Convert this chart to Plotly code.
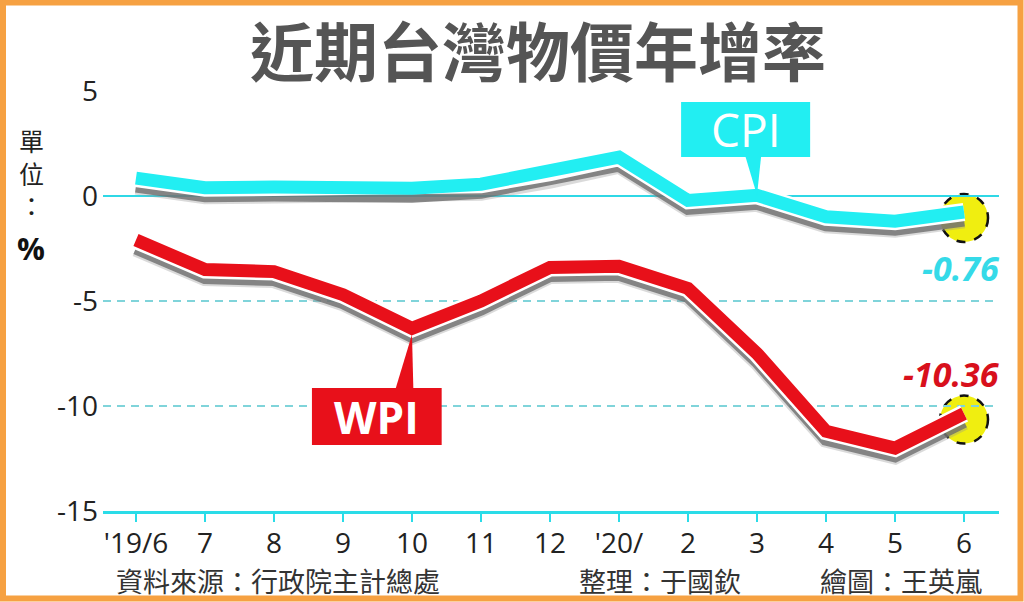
import plotly.graph_objects as go

# ---------------- data ----------------
months = ["'19/6", "7", "8", "9", "10", "11", "12", "'20/", "2", "3", "4", "5", "6"]
cpi = [0.85, 0.39, 0.43, 0.43, 0.37, 0.56, 1.14, 1.85, -0.21, 0.03, -0.99, -1.20, -0.76]
wpi = [-2.1, -3.5, -3.6, -4.7, -6.3, -5.0, -3.4, -3.35, -4.4, -7.5, -11.2, -12.0, -10.36]
y_ticks = [5, 0, -5, -10, -15]
y_tick_labels = ["5", "0", "-5", "-10", "-15"]

# ---------------- style ----------------
CYAN = "#22EEF2"
RED = "#E8101A"
SHADOW = "rgba(110,110,110,0.8)"
SHADOW_DY = 0.38
W_FIG, H_FIG = 1024, 602
L, R, T, B = 103, 999, 91, 511
PW, PH = R - L, B - T


def px(x):
    return (x - L) / PW


def py(y):
    return (B - y) / PH


xs = list(range(len(months)))

fig = go.Figure()


def add_series(vals, color):
    fig.add_trace(go.Scatter(x=xs, y=[v - SHADOW_DY for v in vals], mode="lines",
                             line=dict(color="rgba(150,150,150,0.35)", width=17),
                             hoverinfo="skip", showlegend=False))
    fig.add_trace(go.Scatter(x=xs, y=[v - SHADOW_DY for v in vals], mode="lines",
                             line=dict(color=SHADOW, width=13), hoverinfo="skip", showlegend=False))
    fig.add_trace(go.Scatter(x=xs, y=vals, mode="lines",
                             line=dict(color="white", width=18), hoverinfo="skip", showlegend=False))
    fig.add_trace(go.Scatter(x=xs, y=vals, mode="lines",
                             line=dict(color=color, width=13), showlegend=False))


add_series(cpi, CYAN)
add_series(wpi, RED)

shapes = []
# yellow end circles
for vals in (cpi, wpi):
    shapes.append(dict(type="circle", xref="x", yref="y", xsizemode="pixel", ysizemode="pixel",
                       xanchor=xs[-1], yanchor=vals[-1], x0=-24, x1=24, y0=-30, y1=18,
                       fillcolor="#F0EE10", line=dict(color="#111", width=2.5, dash="dash"),
                       layer="below"))

# CPI callout
shapes.append(dict(type="rect", xref="x", yref="y", x0=7.9, x1=9.77, y0=1.86, y1=4.48,
                   fillcolor=CYAN, line=dict(width=0), layer="above"))
shapes.append(dict(type="path", xref="x", yref="y",
                   path=f"M 8.83,1.9 L 9.06,1.9 L {xs[9]},{cpi[9]} Z",
                   fillcolor=CYAN, line=dict(width=0), layer="above"))
# WPI callout
shapes.append(dict(type="rect", xref="x", yref="y", x0=2.55, x1=4.43, y0=-11.86, y1=-9.14,
                   fillcolor=RED, line=dict(width=0), layer="above"))
shapes.append(dict(type="path", xref="x", yref="y",
                   path=f"M 3.76,-9.2 L 4.02,-9.2 L {xs[4]},{wpi[4] - 0.3} Z",
                   fillcolor=RED, line=dict(width=0), layer="above"))

# orange frame
shapes.append(dict(type="rect", xref="paper", yref="paper",
                   x0=px(3), x1=px(1020.5), y0=py(598.5), y1=py(2.5),
                   line=dict(color="#F6A142", width=6), fillcolor="rgba(0,0,0,0)", layer="above"))

CJK = "Noto Sans CJK TC"
LAT = "Open Sans"


def ptxt(text, x, y, size, color, family=CJK):
    return dict(text=text, x=px(x), y=py(y), xref="paper", yref="paper", showarrow=False,
                xanchor="center", yanchor="middle", font=dict(family=family, size=size, color=color))


annotations = [
    ptxt("<b>近期台灣物價年增率</b>", 538, 48, 64, "#555555"),
    ptxt("單<br>位<br>：", 31, 172, 25, "#222"),
    ptxt("<b>%</b>", 31, 248, 31, "#111", LAT),
    ptxt("資料來源：行政院主計總處", 278, 580, 27, "#333"),
    ptxt("整理：于國欽", 660, 580, 27, "#333"),
    ptxt("繪圖：王英嵐", 901, 580, 27, "#333"),
    dict(text="CPI", x=(7.9 + 9.77) / 2, y=(1.86 + 4.48) / 2, xref="x", yref="y",
         xanchor="center", yanchor="middle", showarrow=False,
         font=dict(family=LAT, size=46, color="white")),
    dict(text="<b>WPI</b>", x=(2.55 + 4.43) / 2, y=(-11.86 - 9.14) / 2, xref="x", yref="y",
         xanchor="center", yanchor="middle", showarrow=False,
         font=dict(family=LAT, size=44, color="white")),
    dict(text=f"<b><i>{cpi[-1]:.2f}</i></b>", x=xs[-1], y=cpi[-1], xref="x", yref="y",
         xanchor="right", yanchor="middle", xshift=38, yshift=-56, showarrow=False,
         font=dict(family=LAT, size=34, color="#35DAE8")),
    dict(text=f"<b><i>{wpi[-1]:.2f}</i></b>", x=xs[-1], y=wpi[-1], xref="x", yref="y",
         xanchor="right", yanchor="middle", xshift=38, yshift=40, showarrow=False,
         font=dict(family=LAT, size=34, color="#D8101C")),
]

fig.update_layout(
    width=W_FIG, height=H_FIG,
    margin=dict(l=L, r=W_FIG - R, t=T, b=H_FIG - B, pad=0),
    paper_bgcolor="white", plot_bgcolor="white",
    shapes=shapes, annotations=annotations,
    xaxis=dict(range=[-0.478, 12.507], tickvals=xs, ticktext=months, showgrid=False,
               zeroline=False, showline=True, linecolor="#2ADCE8", linewidth=3,
               ticks="outside", ticklen=8, tickwidth=2, tickcolor="#2ADCE8",
               ticklabelstandoff=-3,
               tickfont=dict(family=LAT, size=28, color="#222"), fixedrange=True),
    yaxis=dict(range=[-15, 5], tickvals=y_ticks, ticktext=y_tick_labels, showgrid=True,
               gridcolor="#80D4DA", gridwidth=2, griddash="8px,6px", zeroline=True,
               zerolinecolor="#2FD8E6", zerolinewidth=2, showline=False, ticks="",
               ticklabelstandoff=4,
               tickfont=dict(family=LAT, size=28, color="#222"), fixedrange=True),
)

fig.write_html("out.html", config={"displayModeBar": False},
               post_script="document.body.style.margin='0';")
